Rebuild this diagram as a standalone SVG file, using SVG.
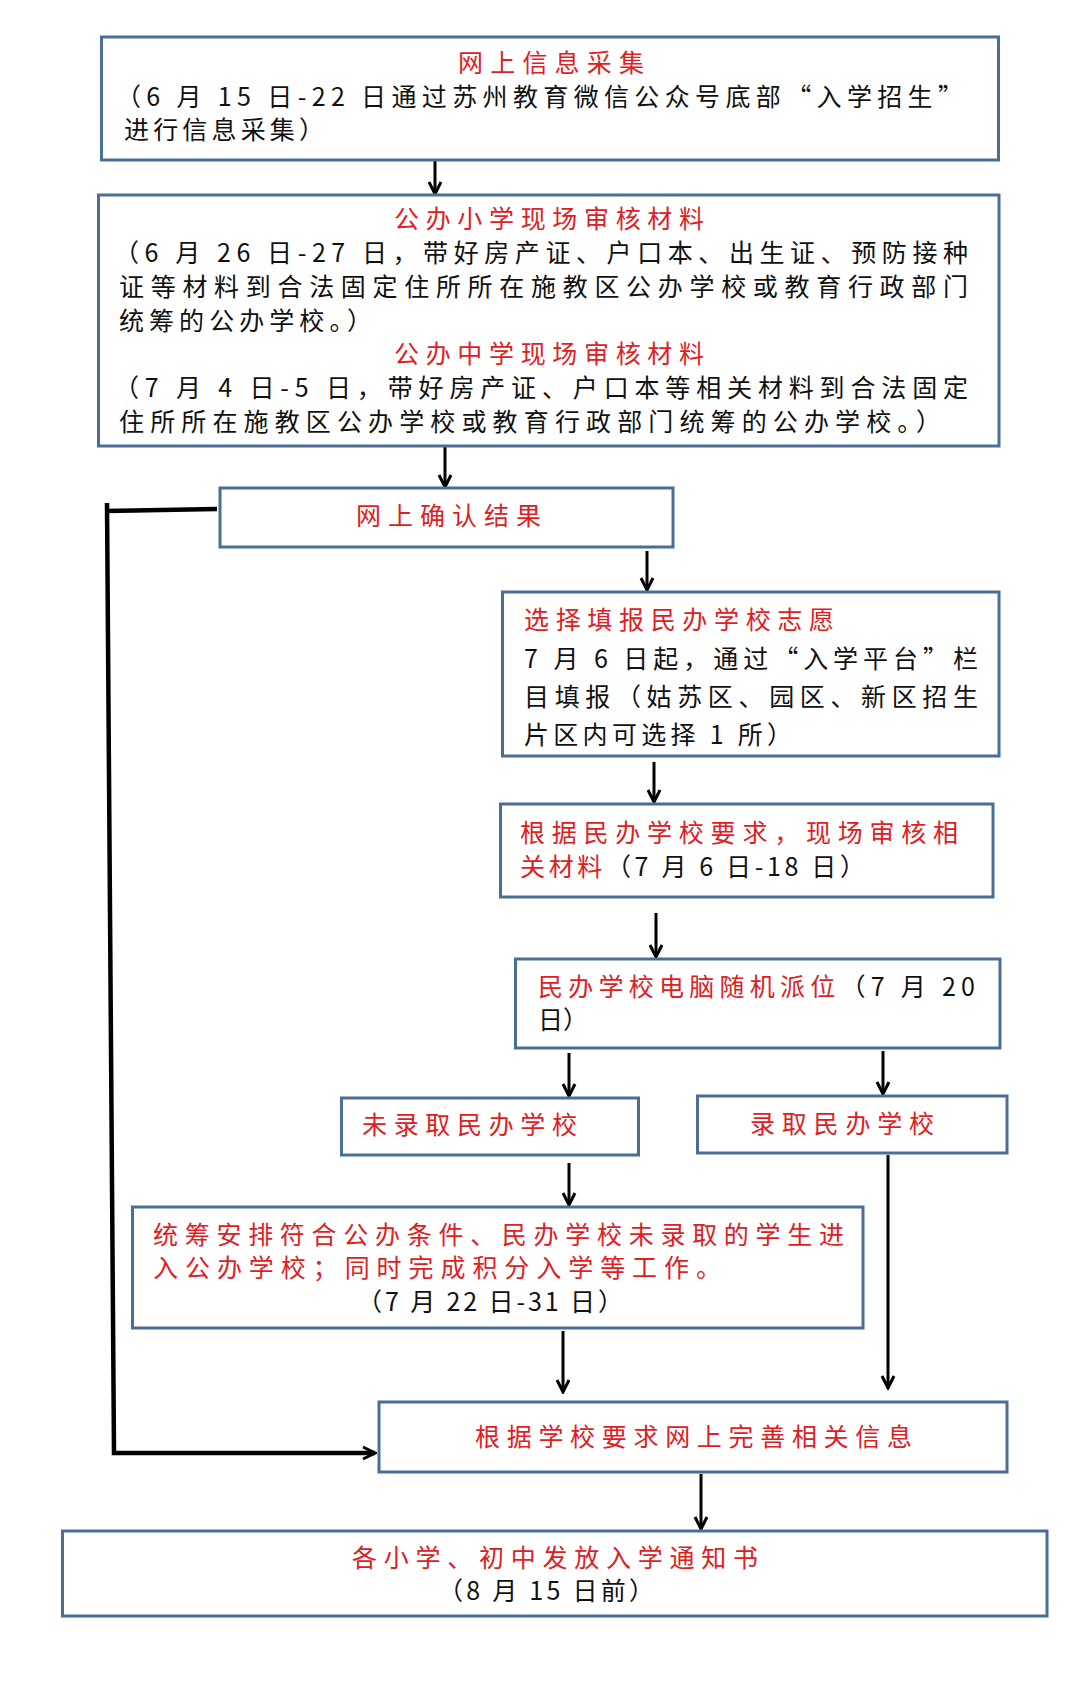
<svg xmlns="http://www.w3.org/2000/svg" width="1080" height="1704" viewBox="0 0 1080 1704">
<style>
.box{fill:#ffffff;stroke:#4a6e94;stroke-width:3}
text{font-family:"Noto Sans CJK SC","Noto Sans",sans-serif;font-size:25px}
.r{fill:#e0201f}
.k{fill:#111111}
.c{fill:none;stroke:#000000;stroke-width:3}
.fb{fill:none;stroke:#000000;stroke-width:4.5}
</style>
<defs>
<marker id="ah" viewBox="0 0 16 16" refX="14" refY="8" markerWidth="16" markerHeight="16" markerUnits="userSpaceOnUse" orient="auto">
<path d="M2,2 L14,8 L2,14" fill="none" stroke="#000" stroke-width="3"/>
</marker>
</defs>
<rect width="1080" height="1704" fill="#ffffff"/>
<g id="connectors">
<line class="c" x1="435" y1="160" x2="435" y2="194" marker-end="url(#ah)"/>
<line class="c" x1="445" y1="446" x2="445" y2="487" marker-end="url(#ah)"/>
<line class="c" x1="647" y1="551" x2="647" y2="590" marker-end="url(#ah)"/>
<line class="c" x1="654" y1="762" x2="654" y2="802" marker-end="url(#ah)"/>
<line class="c" x1="656" y1="913" x2="656" y2="957" marker-end="url(#ah)"/>
<line class="c" x1="569" y1="1053" x2="569" y2="1096" marker-end="url(#ah)"/>
<line class="c" x1="883" y1="1051" x2="883" y2="1094" marker-end="url(#ah)"/>
<line class="c" x1="569" y1="1163" x2="569" y2="1205" marker-end="url(#ah)"/>
<line class="c" x1="888" y1="1155" x2="888" y2="1388" marker-end="url(#ah)"/>
<line class="c" x1="563" y1="1331" x2="563" y2="1392" marker-end="url(#ah)"/>
<line class="c" x1="701" y1="1474" x2="701" y2="1529" marker-end="url(#ah)"/>
<path class="fb" d="M217,509 L106,511"/>
<path class="fb" d="M107,503 L114,1453 L375,1453" marker-end="url(#ah)"/>
</g>
<g id="n1">
<rect class="box" x="101.5" y="37" width="897" height="123"/>
<text class="r" x="458" y="72" textLength="186" lengthAdjust="spacing">网上信息采集</text>
<text class="k" x="116" y="106" textLength="847" lengthAdjust="spacing">（6 月 15 日-22 日通过苏州教育微信公众号底部“入学招生”</text>
<text class="k" x="124" y="139" textLength="200" lengthAdjust="spacing">进行信息采集）</text>
</g>
<g id="n2">
<rect class="box" x="98.5" y="195" width="900.5" height="251"/>
<text class="r" x="394" y="228" textLength="310" lengthAdjust="spacing">公办小学现场审核材料</text>
<text class="k" x="114" y="262" textLength="854" lengthAdjust="spacing">（6 月 26 日-27 日，带好房产证、户口本、出生证、预防接种</text>
<text class="k" x="119" y="296" textLength="849" lengthAdjust="spacing">证等材料到合法固定住所所在施教区公办学校或教育行政部门</text>
<text class="k" x="119" y="330" textLength="253" lengthAdjust="spacing">统筹的公办学校。）</text>
<text class="r" x="394" y="363" textLength="310" lengthAdjust="spacing">公办中学现场审核材料</text>
<text class="k" x="114" y="397" textLength="854" lengthAdjust="spacing">（7 月 4 日-5 日，带好房产证、户口本等相关材料到合法固定</text>
<text class="k" x="119" y="431" textLength="822" lengthAdjust="spacing">住所所在施教区公办学校或教育行政部门统筹的公办学校。）</text>
</g>
<g id="n3">
<rect class="box" x="220" y="488" width="453" height="59"/>
<text class="r" x="356" y="525" textLength="185" lengthAdjust="spacing">网上确认结果</text>
</g>
<g id="n4">
<rect class="box" x="502.5" y="592" width="496.5" height="164"/>
<text class="r" x="524" y="629" textLength="310" lengthAdjust="spacing">选择填报民办学校志愿</text>
<text class="k" x="524" y="668" textLength="454" lengthAdjust="spacing">7 月 6 日起，通过“入学平台”栏</text>
<text class="k" x="524" y="706" textLength="454" lengthAdjust="spacing">目填报（姑苏区、园区、新区招生</text>
<text class="k" x="524" y="744" textLength="268" lengthAdjust="spacing">片区内可选择 1 所）</text>
</g>
<g id="n5">
<rect class="box" x="500.5" y="804" width="492.5" height="93"/>
<text class="r" x="520" y="842" textLength="438" lengthAdjust="spacing">根据民办学校要求，现场审核相</text>
<text x="520" y="876" textLength="345" lengthAdjust="spacing"><tspan class="r">关材料</tspan><tspan class="k">（7 月 6 日-18 日）</tspan></text>
</g>
<g id="n6">
<rect class="box" x="515.5" y="959" width="484.5" height="89"/>
<text x="538" y="996" textLength="437" lengthAdjust="spacing"><tspan class="r">民办学校电脑随机派位</tspan><tspan class="k">（7 月 20</tspan></text>
<text class="k" x="538" y="1029">日）</text>
</g>
<g id="n7">
<rect class="box" x="341.5" y="1098" width="297" height="57"/>
<text class="r" x="362" y="1134" textLength="215" lengthAdjust="spacing">未录取民办学校</text>
</g>
<g id="n8">
<rect class="box" x="697.5" y="1096" width="309.5" height="57"/>
<text class="r" x="750" y="1133" textLength="184" lengthAdjust="spacing">录取民办学校</text>
</g>
<g id="n9">
<rect class="box" x="132.5" y="1207" width="730.5" height="121"/>
<text class="r" x="153" y="1244" textLength="691" lengthAdjust="spacing">统筹安排符合公办条件、民办学校未录取的学生进</text>
<text class="r" x="153" y="1277" textLength="568" lengthAdjust="spacing">入公办学校；同时完成积分入学等工作。</text>
<text class="k" x="357" y="1311" textLength="266" lengthAdjust="spacing">（7 月 22 日-31 日）</text>
</g>
<g id="n10">
<rect class="box" x="379" y="1402" width="628" height="70"/>
<text class="r" x="475" y="1446" textLength="437" lengthAdjust="spacing">根据学校要求网上完善相关信息</text>
</g>
<g id="n11">
<rect class="box" x="62.5" y="1531" width="984.5" height="85"/>
<text class="r" x="352" y="1567" textLength="406" lengthAdjust="spacing">各小学、初中发放入学通知书</text>
<text class="k" x="438" y="1600" textLength="216" lengthAdjust="spacing">（8 月 15 日前）</text>
</g>
</svg>
